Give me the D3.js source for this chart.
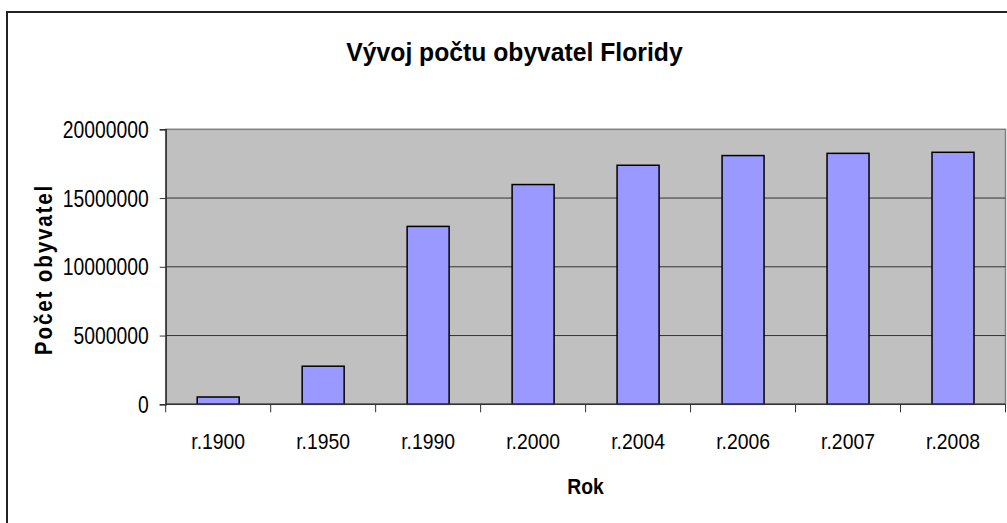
<!DOCTYPE html>
<html>
<head>
<meta charset="utf-8">
<script src="https://cdn.jsdelivr.net/npm/d3@7.9.0/dist/d3.min.js"></script>
<style>
  body { margin: 0; background: #fff; }
  text { font-family: "Liberation Sans", Arial, sans-serif; fill: #000; }
</style>
</head>
<body>
<svg id="chart" width="1007" height="523"></svg>
<script>
// data
const years = ["r.1900", "r.1950", "r.1990", "r.2000", "r.2004", "r.2006", "r.2007", "r.2008"];
const population = [530000, 2771000, 12938000, 15982000, 17385000, 18090000, 18251000, 18328000];
const yTicks = [0, 5000000, 10000000, 15000000, 20000000];

const svg = d3.select("#chart");

// squeeze text horizontally like the original rendering
function squeeze(sel, factor) {
  sel.each(function () {
    const w = this.getComputedTextLength();
    d3.select(this).attr("textLength", w * factor).attr("lengthAdjust", "spacingAndGlyphs");
  });
}

// outer chart border (runs off the right and bottom edge)
svg.append("rect")
  .attr("x", 7).attr("y", 12)
  .attr("width", 1030).attr("height", 530)
  .attr("fill", "none")
  .attr("stroke", "#222")
  .attr("stroke-width", 2);

const plot = { left: 165.7, right: 1005.5, top: 129.3, bottom: 404.3 };

const x = d3.scaleBand()
  .domain(years)
  .range([plot.left, plot.right])
  .paddingInner(0.6)
  .paddingOuter(0.3);

const y = d3.scaleLinear()
  .domain([0, 20000000])
  .range([plot.bottom, plot.top]);

// plot area
svg.append("rect")
  .attr("x", plot.left).attr("y", plot.top)
  .attr("width", plot.right - plot.left)
  .attr("height", plot.bottom - plot.top)
  .attr("fill", "#c0c0c0")
  .attr("stroke", "#808080")
  .attr("stroke-width", 1.5);

// gridlines
svg.append("g")
  .selectAll("line")
  .data(yTicks.filter(d => d > 0 && d < 20000000))
  .join("line")
  .attr("x1", plot.left).attr("x2", plot.right)
  .attr("y1", d => y(d)).attr("y2", d => y(d))
  .attr("stroke", "#333")
  .attr("stroke-width", 1);

// bars
svg.append("g")
  .selectAll("rect")
  .data(years)
  .join("rect")
  .attr("x", d => x(d))
  .attr("width", x.bandwidth())
  .attr("y", (d, i) => y(population[i]))
  .attr("height", (d, i) => y(0) - y(population[i]))
  .attr("fill", "#9999ff")
  .attr("stroke", "#000")
  .attr("stroke-width", 1.5);

// y axis
const yAxis = svg.append("g")
  .attr("transform", `translate(${plot.left},0)`)
  .call(d3.axisLeft(y).tickValues(yTicks).tickSize(6).tickPadding(11).tickFormat(d3.format("d")));
yAxis.select(".domain").attr("stroke", "#333").attr("stroke-width", 1.5);
yAxis.selectAll(".tick line").attr("stroke", "#333");
yAxis.selectAll(".tick text")
  .attr("font-size", 23)
  .attr("font-family", "Liberation Sans, Arial, sans-serif")
  .attr("fill", "#000")
  .attr("dy", "0.35em")
  .call(squeeze, 0.84);

// x axis: ticks between categories
const step = x.step();
const xAxisG = svg.append("g");
xAxisG.append("line")
  .attr("x1", plot.left).attr("x2", plot.right)
  .attr("y1", plot.bottom).attr("y2", plot.bottom)
  .attr("stroke", "#333").attr("stroke-width", 1.5);
xAxisG.selectAll("line.tk")
  .data(d3.range(years.length + 1))
  .join("line")
  .attr("class", "tk")
  .attr("x1", i => plot.left + i * step).attr("x2", i => plot.left + i * step)
  .attr("y1", plot.bottom).attr("y2", plot.bottom + 8)
  .attr("stroke", "#333");
xAxisG.selectAll("text")
  .data(years)
  .join("text")
  .attr("x", d => x(d) + x.bandwidth() / 2)
  .attr("y", 448.5)
  .attr("text-anchor", "middle")
  .attr("font-size", 22)
  .text(d => d)
  .call(squeeze, 0.88);

// title
svg.append("text")
  .attr("x", 514.5).attr("y", 61)
  .attr("text-anchor", "middle")
  .attr("font-size", 26)
  .attr("font-weight", "bold")
  .text("Vývoj počtu obyvatel Floridy")
  .call(squeeze, 0.95);

// axis titles
svg.append("text")
  .attr("transform", "translate(51.5,269.5) rotate(-90)")
  .attr("text-anchor", "middle")
  .attr("font-size", 23)
  .attr("font-weight", "bold")
  .attr("letter-spacing", 2)
  .text("Počet obyvatel")
  .call(squeeze, 0.9);

svg.append("text")
  .attr("x", (plot.left + plot.right) / 2).attr("y", 494)
  .attr("text-anchor", "middle")
  .attr("font-size", 22)
  .attr("font-weight", "bold")
  .text("Rok")
  .call(squeeze, 0.88);
</script>
</body>
</html>
